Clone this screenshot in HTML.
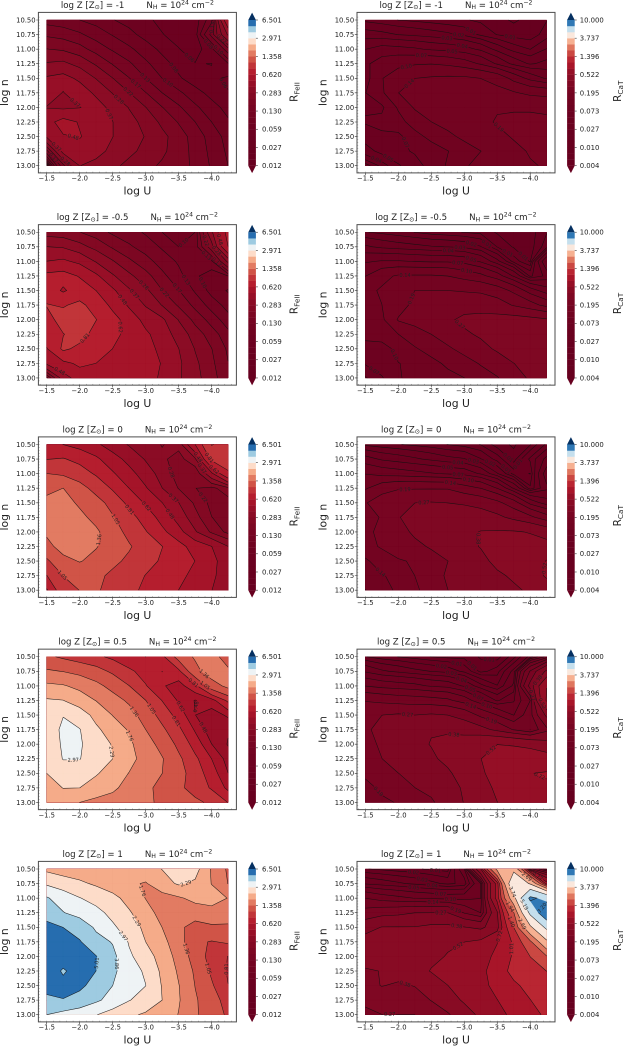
<!DOCTYPE html>
<html lang="en">
<head>
<meta charset="utf-8">
<title>Contour grid of R_FeII and R_CaT</title>
<style>
html,body{margin:0;padding:0;background:#fff;}
svg{display:block;}
text{font-family:"DejaVu Sans","Liberation Sans",sans-serif;fill:#222;}
</style>
</head>
<body>
<svg id="figure" xmlns="http://www.w3.org/2000/svg" width="623" height="1046" viewBox="0 0 623 1046"></svg>
<script>
// ---------- chart data ----------
const logU = [-1.5,-1.75,-2,-2.25,-2.5,-2.75,-3,-3.25,-3.5,-3.75,-4,-4.25];
const logN = [10.5,10.75,11,11.25,11.5,11.75,12,12.25,12.5,12.75,13];
const metallicities = ["-1","-0.5","0","0.5","1"];
const xTicks = [-1.5,-2,-2.5,-3,-3.5,-4];
const yTicks = [10.5,10.75,11,11.25,11.5,11.75,12,12.25,12.5,12.75,13];
const feTickLabels = ["0.012","0.027","0.059","0.130","0.283","0.620","1.358","2.971","6.501"];
const caTickLabels = ["0.004","0.010","0.027","0.073","0.195","0.522","1.396","3.737","10.000"];
const feRange = [0.0124,6.501];
const caRange = [0.0038,10];

const feZm1 = [
[.115,.11,.10,.09,.078,.07,.062,.056,.052,.05,.09,.60],
[.16,.15,.135,.115,.098,.083,.07,.06,.054,.05,.14,.38],
[.22,.21,.185,.15,.125,.105,.087,.072,.06,.052,.07,.15],
[.29,.30,.26,.21,.165,.135,.105,.085,.07,.06,.059,.075],
[.38,.40,.35,.28,.22,.17,.13,.10,.08,.066,.062,.057],
[.41,.365,.42,.35,.28,.22,.17,.13,.105,.085,.07,.06],
[.365,.35,.365,.41,.34,.28,.22,.17,.135,.105,.085,.07],
[.44,.52,.47,.43,.37,.31,.26,.205,.165,.13,.10,.08],
[.38,.47,.485,.43,.37,.32,.28,.235,.19,.15,.115,.09],
[.15,.40,.44,.40,.345,.30,.265,.23,.19,.155,.12,.095],
[.015,.2,.37,.34,.30,.265,.235,.21,.185,.16,.125,.10]];
const caZm1 = [
[.018,.016,.014,.013,.012,.011,.0105,.0095,.008,.007,.008,.01],
[.032,.03,.027,.025,.023,.021,.018,.013,.010,.0085,.008,.012],
[.052,.06,.058,.055,.05,.047,.043,.035,.024,.017,.014,.02],
[.068,.085,.095,.098,.10,.095,.085,.07,.05,.034,.026,.03],
[.062,.10,.115,.14,.145,.148,.148,.14,.125,.09,.065,.05],
[.072,.095,.14,.16,.17,.175,.175,.17,.155,.145,.13,.125],
[.07,.068,.105,.145,.16,.17,.18,.188,.19,.19,.19,.185],
[.075,.08,.09,.115,.14,.155,.17,.18,.20,.205,.205,.205],
[.06,.068,.066,.09,.11,.13,.15,.165,.18,.20,.21,.21],
[.045,.058,.068,.075,.085,.10,.12,.14,.16,.18,.20,.205],
[.015,.03,.05,.065,.08,.105,.135,.155,.17,.18,.19,.20]];
const feZm05 = [
[.25,.24,.22,.19,.16,.145,.125,.10,.09,.10,.35,.68],
[.37,.36,.31,.26,.21,.175,.15,.125,.10,.11,.25,.62],
[.48,.50,.45,.36,.29,.23,.185,.15,.125,.10,.12,.30],
[.66,.68,.61,.50,.38,.30,.24,.18,.14,.105,.085,.10],
[.72,.60,.70,.62,.50,.38,.30,.22,.17,.125,.09,.075],
[.815,.79,.85,.73,.58,.46,.36,.28,.21,.155,.115,.09],
[.74,.88,.95,.81,.68,.55,.44,.385,.28,.2,.15,.11],
[.71,.80,.88,.74,.66,.58,.50,.42,.33,.25,.19,.14],
[.61,.84,.76,.70,.62,.58,.52,.45,.37,.28,.22,.16],
[.50,.58,.65,.62,.61,.60,.55,.47,.385,.30,.23,.17],
[.15,.42,.54,.55,.56,.54,.50,.47,.38,.31,.24,.18]];
const caZm05 = [
[.02,.018,.016,.014,.012,.011,.01,.009,.007,.0055,.006,.01],
[.04,.035,.032,.03,.028,.027,.025,.02,.01,.007,.006,.012],
[.07,.075,.075,.072,.07,.07,.065,.05,.03,.012,.007,.05],
[.10,.13,.145,.145,.145,.14,.125,.11,.085,.05,.018,.03],
[.13,.145,.175,.195,.195,.195,.19,.185,.165,.13,.085,.06],
[.125,.14,.17,.21,.225,.235,.245,.24,.225,.19,.16,.125],
[.115,.13,.2,.215,.235,.26,.285,.295,.30,.305,.295,.28],
[.11,.125,.14,.17,.195,.225,.26,.28,.30,.31,.31,.31],
[.09,.08,.115,.135,.16,.185,.215,.25,.28,.30,.31,.315],
[.075,.088,.10,.11,.125,.15,.17,.20,.235,.27,.29,.325],
[.05,.07,.10,.105,.11,.125,.14,.165,.19,.24,.28,.30]];
const feZ0 = [
[.65,.62,.56,.50,.42,.36,.32,.28,.31,.62,1.06,.95],
[.80,.82,.75,.65,.53,.44,.36,.30,.25,.35,.85,.90],
[1.05,1.0,.90,.78,.64,.52,.42,.33,.25,.22,.45,.78],
[1.3,1.36,1.15,.95,.78,.62,.49,.37,.28,.22,.20,.26],
[1.42,1.5,1.3,1.15,.95,.75,.60,.48,.37,.27,.2,.19],
[1.45,1.6,1.45,1.25,1.07,.88,.72,.56,.43,.31,.22,.19],
[1.42,1.65,1.6,1.42,1.15,.98,.82,.66,.52,.38,.27,.2],
[1.25,1.5,1.6,1.38,1.18,1.07,.93,.81,.68,.55,.48,.37],
[1.0,1.25,1.38,1.25,1.1,1.0,.88,.78,.7,.62,.52,.40],
[.80,1.05,1.1,1.1,1.0,.9,.8,.72,.66,.58,.5,.42],
[.60,.95,1.05,1.08,.95,.84,.78,.7,.62,.55,.48,.42]];
const caZ0 = [
[.025,.022,.02,.018,.016,.014,.012,.01,.006,.005,.007,.015],
[.06,.05,.045,.04,.035,.03,.028,.02,.012,.006,.015,.03],
[.10,.09,.085,.08,.075,.07,.065,.05,.028,.012,.01,.045],
[.135,.17,.19,.19,.19,.19,.16,.14,.10,.05,.015,.035],
[.19,.23,.24,.27,.275,.27,.26,.24,.21,.16,.09,.06],
[.17,.2,.265,.31,.32,.325,.33,.32,.29,.25,.21,.16],
[.19,.2,.24,.285,.31,.335,.35,.38,.385,.385,.37,.33],
[.18,.2,.22,.25,.28,.31,.35,.38,.41,.42,.42,.42],
[.13,.17,.19,.20,.235,.27,.30,.35,.40,.42,.43,.53],
[.12,.135,.16,.195,.24,.28,.3,.33,.36,.39,.41,.55],
[.1,.12,.15,.18,.23,.27,.29,.31,.33,.36,.39,.41]];
const feZ05 = [
[1.1,1.0,.92,.85,.76,.65,.62,.75,1.15,1.40,1.45,1.25],
[1.4,1.35,1.25,1.15,1.0,.85,.72,.62,.75,1.25,1.55,1.4],
[1.85,1.8,1.65,1.45,1.25,1.05,.82,.64,.55,.75,1.2,1.45],
[2.35,2.3,2.0,1.75,1.5,1.3,1.05,.8,.6,.47,.55,.85],
[2.55,2.95,2.6,2.1,1.75,1.5,1.2,.95,.72,.48,.42,.5],
[2.6,3.1,3.0,2.4,2.0,1.72,1.36,1.1,.85,.6,.39,.38],
[2.6,3.05,3.05,2.6,2.25,1.85,1.5,1.25,.98,.72,.48,.36],
[2.5,3.0,3.0,2.55,2.29,1.9,1.6,1.38,1.1,.85,.62,.42],
[2.29,2.65,2.55,2.35,2.0,1.75,1.5,1.36,1.15,.92,.7,.48],
[2.1,2.3,2.29,2.0,1.85,1.6,1.42,1.28,1.1,.95,.78,.58],
[2.0,1.95,1.76,1.65,1.58,1.5,1.42,1.3,1.2,1.1,1.0,.8]];
const caZ05 = [
[.02,.016,.014,.012,.01,.009,.009,.007,.006,.012,.03,.08],
[.05,.04,.035,.03,.027,.024,.018,.009,.012,.03,.2,.4],
[.10,.09,.085,.08,.07,.065,.05,.03,.02,.04,.3,.72],
[.19,.18,.17,.165,.16,.15,.12,.08,.05,.07,.14,.75],
[.26,.27,.28,.27,.28,.27,.24,.18,.14,.10,.17,.4],
[.26,.29,.31,.35,.37,.36,.33,.30,.25,.19,.14,.25],
[.25,.28,.31,.35,.38,.41,.45,.5,.52,.51,.48,.42],
[.25,.27,.30,.33,.36,.40,.46,.52,.58,.6,.62,.6],
[.21,.24,.27,.29,.32,.36,.42,.5,.58,.64,.72,.74],
[.17,.21,.24,.27,.29,.33,.39,.46,.55,.6,.68,.7],
[.14,.18,.2,.23,.26,.31,.38,.44,.52,.57,.6,.62]];
const feZ1 = [
[2.15,2.0,1.95,1.95,1.95,2.0,2.1,2.3,2.6,2.5,1.7,1.3],
[2.85,2.6,2.4,2.2,2.0,1.85,1.72,2.1,2.35,2.2,1.75,1.35],
[3.95,3.4,3.0,2.7,2.45,2.1,1.75,1.55,1.7,1.9,1.95,1.75],
[4.6,3.9,3.5,3.2,2.75,2.35,1.95,1.6,1.36,1.5,1.6,1.55],
[5.3,5.0,4.5,3.7,3.1,2.6,2.15,1.76,1.42,1.25,1.3,1.3],
[5.6,5.5,5.1,4.2,3.8,2.9,2.29,1.9,1.5,1.1,1.03,1.08],
[5.9,5.9,5.7,5.05,4.1,3.1,2.55,2.05,1.6,1.2,.95,.8],
[6.1,4.8,5.8,5.0,4.1,3.2,2.9,2.15,1.7,1.3,1.0,.78],
[5.5,5.5,5.3,4.5,3.86,3.2,2.98,2.25,1.78,1.35,1.08,.81],
[4.7,4.95,4.5,4.0,3.55,3.0,2.7,2.29,1.8,1.4,1.15,.95],
[3.86,3.5,3.3,3.0,2.6,2.4,2.2,2.0,1.75,1.4,1.2,1.0]];
const caZ1 = [
[.02,.018,.016,.015,.013,.012,.05,.5,2.9,3.4,.3,.1],
[.05,.045,.04,.035,.03,.025,.03,.1,.8,5.0,3.6,.8],
[.14,.12,.11,.1,.095,.09,.09,.1,.8,3.3,7.6,6.6],
[.22,.24,.25,.27,.27,.27,.19,.14,.5,1.9,5.5,9.0],
[.33,.38,.38,.38,.4,.4,.38,.35,.45,1.4,3.5,5.5],
[.43,.44,.46,.47,.48,.5,.52,.55,.72,1.05,1.8,3.5],
[.44,.46,.46,.47,.49,.53,.6,.68,.75,1.05,1.4,1.9],
[.36,.38,.42,.46,.53,.58,.62,.66,.85,1.1,1.25,1.4],
[.34,.38,.36,.38,.44,.52,.6,.65,.8,.95,1.1,1.25],
[.28,.3,.3,.32,.38,.46,.54,.62,.72,.85,1.0,1.15],
[.26,.27,.27,.27,.3,.36,.46,.55,.65,.78,.92,1.05]];
const feGrids = [feZm1,feZm05,feZ0,feZ05,feZ1];
const caGrids = [caZm1,caZm05,caZ0,caZ05,caZ1];

// ---------- helpers ----------
const NS = "http://www.w3.org/2000/svg";
const root = document.getElementById("figure");
function make(tag, attrs, parent, txt){
  const e = document.createElementNS(NS, tag);
  for (const k in attrs) e.setAttribute(k, attrs[k]);
  if (txt !== undefined) e.textContent = txt;
  (parent || root).appendChild(e);
  return e;
}
const RDBU = ["#67001f","#b2182b","#d6604d","#f4a582","#fddbc7","#f7f7f7","#d1e5f0","#92c5de","#4393c3","#2166ac","#053061"];
function cmap(t){
  t = Math.max(0, Math.min(1, t)) * 10;
  const i = Math.min(9, Math.floor(t)), f = t - i;
  const h = s => [1,3,5].map(p => parseInt(s.substr(p,2),16));
  const a = h(RDBU[i]), b = h(RDBU[i+1]);
  return "rgb(" + a.map((v,k) => Math.round(v + (b[k]-v)*f)).join(",") + ")";
}
function geomLevels(range){
  const out = [];
  const r = Math.pow(range[1]/range[0], 1/24);
  for (let k = 0; k <= 24; k++) out.push(range[0]*Math.pow(r,k));
  return out;
}
function clipAbove(poly, lev){
  const out = [];
  for (let i = 0; i < poly.length; i++){
    const a = poly[i], b = poly[(i+1)%poly.length];
    const ai = a[2] >= lev, bi = b[2] >= lev;
    if (ai) out.push(a);
    if (ai !== bi){
      const t = (lev-a[2])/(b[2]-a[2]);
      out.push([a[0]+(b[0]-a[0])*t, a[1]+(b[1]-a[1])*t, lev]);
    }
  }
  return out;
}
function crossing(p, q, lev){
  const lo = p[2] < q[2] ? p : q, hi = p[2] < q[2] ? q : p;
  const t = (lev-lo[2])/(hi[2]-lo[2]);
  return [lo[0]+(hi[0]-lo[0])*t, lo[1]+(hi[1]-lo[1])*t];
}
function cellSegments(c, lev){
  const E = [];
  for (let i = 0; i < 4; i++){
    const a = c[i], b = c[(i+1)%4];
    E.push((a[2] >= lev) !== (b[2] >= lev) ? crossing(a,b,lev) : null);
  }
  const hit = [0,1,2,3].filter(i => E[i]);
  if (hit.length === 2) return [[E[hit[0]],E[hit[1]]]];
  if (hit.length === 4){
    const m = (c[0][2]+c[1][2]+c[2][2]+c[3][2])/4;
    const up0 = c[0][2] >= lev;
    if ((m >= lev) === up0) return [[E[0],E[1]],[E[2],E[3]]];
    return [[E[3],E[0]],[E[1],E[2]]];
  }
  return [];
}
function stitch(segs){
  const key = p => p[0].toFixed(5)+","+p[1].toFixed(5);
  const map = {};
  segs.forEach((s,i) => {
    (map[key(s[0])] = map[key(s[0])] || []).push(i);
    (map[key(s[1])] = map[key(s[1])] || []).push(i);
  });
  const used = segs.map(() => false);
  const nextFrom = p => {
    const l = map[key(p)] || [];
    for (const i of l) if (!used[i]) return i;
    return -1;
  };
  const lines = [];
  for (let i = 0; i < segs.length; i++){
    if (used[i]) continue;
    used[i] = true;
    const line = [segs[i][0], segs[i][1]];
    let n;
    while ((n = nextFrom(line[line.length-1])) >= 0){
      used[n] = true;
      const s = segs[n], end = key(line[line.length-1]);
      line.push(key(s[0]) === end ? s[1] : s[0]);
    }
    while ((n = nextFrom(line[0])) >= 0){
      used[n] = true;
      const s = segs[n], end = key(line[0]);
      line.unshift(key(s[0]) === end ? s[1] : s[0]);
    }
    lines.push(line);
  }
  return lines;
}
function pointAt(pts, cum, s){
  for (let i = 1; i < pts.length; i++){
    if (cum[i] >= s){
      const t = (s-cum[i-1])/((cum[i]-cum[i-1])||1);
      return [pts[i-1][0]+(pts[i][0]-pts[i-1][0])*t, pts[i-1][1]+(pts[i][1]-pts[i-1][1])*t];
    }
  }
  return pts[pts.length-1];
}
function sliceLine(pts, cum, a, b){
  const out = [pointAt(pts,cum,a)];
  for (let i = 0; i < pts.length; i++) if (cum[i] > a && cum[i] < b) out.push(pts[i]);
  out.push(pointAt(pts,cum,b));
  return out;
}
const toD = pts => pts.map((p,i) => (i?"L":"M")+p[0].toFixed(2)+" "+p[1].toFixed(2)).join("");

// ---------- one panel ----------
function drawPanel(grid, range, tickLabels, col, row, quantity){
  const L = col === 0 ? 46.7 : 365.3, W = 181.4;
  const T = 20 + 212.25*row, H = 145.7;
  const frame = {x: L-8.3, y: T-7.6, w: W+16.6, h: H+14.8};
  const xS = u => L + (logU[0]-u)/(logU[0]-logU[logU.length-1])*W;
  const yS = n => T + (n-logN[0])/(logN[logN.length-1]-logN[0])*H;
  const vmin = range[0], vmax = range[1];
  const levels = geomLevels(range);
  const colorOf = k => cmap(((levels[k]+levels[k+1])/2 - vmin)/(vmax-vmin));
  const tag = quantity + "-z" + metallicities[row];

  const g = make("g", {}, root);
  
  

  const cells = [];
  for (let j = 0; j < logN.length-1; j++) for (let i = 0; i < logU.length-1; i++){
    cells.push([[logU[i],logN[j],grid[j][i]],[logU[i+1],logN[j],grid[j][i+1]],
                [logU[i+1],logN[j+1],grid[j+1][i+1]],[logU[i],logN[j+1],grid[j+1][i]]]);
  }
  const px = p => [xS(p[0]), yS(p[1])];

  // filled bands, painted from low to high
  const base = make("rect", {x:L, y:T, width:W, height:H, fill:cmap(0)}, g);
  
  
  for (let k = 0; k <= 24; k++){
    let d = "";
    cells.forEach(c => {
      const poly = clipAbove(c, levels[k]);
      if (poly.length > 2) d += toD(poly.map(px)) + "Z";
    });
    if (!d) continue;
    const fill = k === 24 ? cmap(1) : colorOf(k);
    const band = make("path", {d:d, fill:fill, stroke:fill, "stroke-width":0.15}, g);
    
    
  }

  // contour lines with inline labels
  const placed = [];
  for (let k = 0; k <= 24; k++){
    let segs = [];
    cells.forEach(c => { segs = segs.concat(cellSegments(c, levels[k])); });
    if (!segs.length) continue;
    let d = "";
    stitch(segs).forEach(line => {
      const pts = line.map(px);
      const cum = [0];
      for (let i = 1; i < pts.length; i++) cum.push(cum[i-1]+Math.hypot(pts[i][0]-pts[i-1][0],pts[i][1]-pts[i-1][1]));
      const len = cum[cum.length-1], w = 13;
      let best = null;
      if (len > 20){
        for (let s = w/2+1; s < len-w/2-1; s += 1.5){
          const a = pointAt(pts,cum,s-w/2), b = pointAt(pts,cum,s+w/2), m = pointAt(pts,cum,s);
          const far = placed.every(q => Math.hypot(q[0]-m[0],q[1]-m[1]) > 11);
          if (!far) continue;
          const score = Math.hypot(b[0]-a[0],b[1]-a[1])/w - 0.12*Math.abs(s/len-0.5);
          if (!best || score > best.score) best = {score:score, s:s, a:a, b:b, m:m};
        }
      }
      if (best){
        placed.push(best.m);
        d += toD(sliceLine(pts,cum,0,best.s-w/2)) + toD(sliceLine(pts,cum,best.s+w/2,len));
        let ang = Math.atan2(best.b[1]-best.a[1],best.b[0]-best.a[0])*180/Math.PI;
        if (ang > 90) ang -= 180;
        if (ang < -90) ang += 180;
        const lab = make("text", {x:best.m[0].toFixed(2), y:(best.m[1]+1.8).toFixed(2), "font-size":5.1, "text-anchor":"middle",
          transform:"rotate("+ang.toFixed(1)+" "+best.m[0].toFixed(2)+" "+best.m[1].toFixed(2)+")"}, g, levels[k].toFixed(2));
        
        
      } else {
        d += toD(pts);
      }
    });
    const contour = make("path", {d:d, fill:"none", stroke:"#111", "stroke-width":0.55, "stroke-opacity":0.9}, g);
    
    
  }

  // frame
  const box = make("rect", {x:frame.x, y:frame.y, width:frame.w, height:frame.h, fill:"none", stroke:"#4d4d4d", "stroke-width":1}, g);
  
  

  // ticks
  let tickD = "", minorD = "";
  const fb = frame.y+frame.h, fl = frame.x;
  xTicks.forEach(t => {
    tickD += "M"+xS(t).toFixed(2)+" "+fb+"v2.2";
    const lab = make("text", {x:xS(t).toFixed(2), y:fb+7.8, "font-size":6.8, "text-anchor":"middle"}, g, "\u2212"+Math.abs(t).toFixed(1));
    
    
  });
  yTicks.forEach(t => {
    tickD += "M"+fl+" "+yS(t).toFixed(2)+"h-2.2";
    const lab = make("text", {x:fl-2.8, y:(yS(t)+2.4).toFixed(2), "font-size":6.8, "text-anchor":"end"}, g, t.toFixed(2));
    
    
  });
  for (let u = -1.4; u > -4.4; u -= 0.1) minorD += "M"+xS(u).toFixed(2)+" "+fb+"v-1.2";
  for (let n = 10.45; n < 13.1; n += 0.05) minorD += "M"+fl+" "+yS(n).toFixed(2)+"h1.2";
  const ticks = make("path", {d:tickD, stroke:"#333", "stroke-width":0.6, fill:"none"}, g);
  
  
  const minor = make("path", {d:minorD, stroke:"#555", "stroke-width":0.4, fill:"none"}, g);
  
  

  // axis titles
  const cx = frame.x + frame.w/2, cy = frame.y + frame.h/2;
  const xt = make("text", {x:cx, y:fb+21.6, "font-size":10.8, "text-anchor":"middle"}, g, "log U");
  
  
  const yx = col === 0 ? 8 : 326.6;
  const yt = make("text", {x:yx, y:cy, "font-size":10.8, "text-anchor":"middle", transform:"rotate(-90 "+yx+" "+cy+")"}, g, "log n");
  
  

  // panel title
  const title = make("text", {x:cx, y:frame.y-4.6, "font-size":8.6, "text-anchor":"middle"}, g);
  
  
  make("tspan", {}, title, "log Z [Z");
  make("tspan", {"font-size":6.2, dy:1.3}, title, "\u2299");
  make("tspan", {dy:-1.3}, title, "] = " + metallicities[row]);
  make("tspan", {dx:22}, title, "N");
  make("tspan", {"font-size":6.2, dy:1.3}, title, "H");
  make("tspan", {dy:-1.3}, title, " = 10");
  make("tspan", {"font-size":6.2, dy:-3.4}, title, "24");
  make("tspan", {dy:3.4}, title, " cm");
  make("tspan", {"font-size":6.2, dy:-3.4}, title, "\u22122");

  // colorbar
  const cb = make("g", {}, g);
  
  
  const cbx = col === 0 ? 248.3 : 567.1, cbw = 7.6;
  const segH = H/24;
  for (let k = 0; k < 24; k++){
    const y = T + H - (k+1)*segH;
    const seg = make("rect", {x:cbx, y:y.toFixed(2), width:cbw, height:(segH+0.15).toFixed(2), fill:colorOf(k)}, cb);
    
    
  }
  const up = make("path", {d:"M"+cbx+" "+T+"L"+(cbx+cbw/2)+" "+(T-7.4)+"L"+(cbx+cbw)+" "+T+"Z", fill:cmap(1)}, cb);
  
  
  const down = make("path", {d:"M"+cbx+" "+(T+H)+"L"+(cbx+cbw/2)+" "+(T+H+7.4)+"L"+(cbx+cbw)+" "+(T+H)+"Z", fill:cmap(0)}, cb);
  
  
  tickLabels.forEach((s,i) => {
    const y = T + H - i*H/(tickLabels.length-1);
    const tk = make("path", {d:"M"+(cbx+cbw)+" "+y.toFixed(2)+"h2", stroke:"#333", "stroke-width":0.6}, cb);
    
    
    const lab = make("text", {x:cbx+cbw+(col===0?6.1:5.0), y:(y+2.4).toFixed(2), "font-size":6.9}, cb, s);
    
    
  });
  const lx = col === 0 ? 297.7 : 621.2, ly = T + H/2 + 9;
  const cbt = make("text", {x:lx, y:ly, "font-size":10.4, transform:"rotate(-90 "+lx+" "+ly+")"}, cb);
  
  
  make("tspan", {}, cbt, "R");
  make("tspan", {"font-size":7.3, dy:2}, cbt, quantity === "fe" ? "FeII" : "CaT");
}

metallicities.forEach((z,row) => {
  drawPanel(feGrids[row], feRange, feTickLabels, 0, row, "fe");
  drawPanel(caGrids[row], caRange, caTickLabels, 1, row, "ca");
});
</script>
</body>
</html>
